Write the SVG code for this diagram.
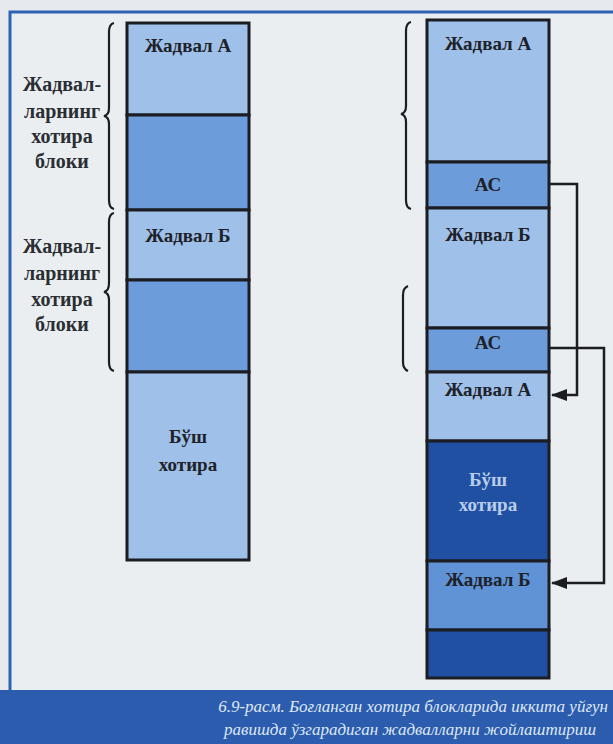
<svg xmlns="http://www.w3.org/2000/svg" width="613" height="744" viewBox="0 0 613 744">
<defs>
<style>
.lbl{font-family:"Liberation Serif",serif;font-weight:bold;font-size:19px;fill:#1e2228;text-anchor:middle}
.side{font-family:"Liberation Serif",serif;font-weight:bold;font-size:20px;fill:#2a2e33;text-anchor:middle}
.wht{font-family:"Liberation Serif",serif;font-weight:bold;font-size:19px;fill:#b9cdea;text-anchor:middle}
.cap{font-family:"Liberation Serif",serif;font-style:italic;font-size:17px;fill:#dfe8f5}
.lt{fill:#9fc0e8;stroke:#1b1d22;stroke-width:3}
.md{fill:#6d9cdb;stroke:#1b1d22;stroke-width:3}
.dk{fill:#1f50a2;stroke:#1b1d22;stroke-width:3}
.mb{fill:#5f93d6;stroke:#1b1d22;stroke-width:3}
.br{fill:none;stroke:#1b1d22;stroke-width:2.2}
.con{fill:none;stroke:#1b1d22;stroke-width:2.5}
</style>
<marker id="ah" viewBox="0 0 16 12" refX="15" refY="6" markerWidth="16" markerHeight="12" orient="auto-start-reverse" markerUnits="userSpaceOnUse">
<path d="M0,0 L16,6 L0,12 z" fill="#1b1d22"/>
</marker>
</defs>
<rect x="0" y="0" width="613" height="744" fill="#e6eaee"/>
<rect x="10" y="12" width="610" height="690" fill="#eaeef1" stroke="#2d63b3" stroke-width="3"/>
<rect x="0" y="690" width="613" height="54" fill="#2b5cae"/>
<text class="cap" x="608" y="712" text-anchor="end">6.9-расм. Боғланган хотира блокларида иккита уйғун</text>
<text class="cap" x="596" y="735" text-anchor="end">равишда ўзгарадиган жадвалларни жойлаштириш</text>

<g id="left-labels">
<text class="side" x="62" y="91">Жадвал-</text>
<text class="side" x="62" y="118">ларнинг</text>
<text class="side" x="62" y="143">хотира</text>
<text class="side" x="62" y="168">блоки</text>
<text class="side" x="62" y="253">Жадвал-</text>
<text class="side" x="62" y="280">ларнинг</text>
<text class="side" x="62" y="306">хотира</text>
<text class="side" x="62" y="331">блоки</text>
</g>
<g id="left-braces">
<path class="br" d="M114,23 Q109,24 109,32 L109,108 Q109,115 104,116 Q109,117 109,124 L109,200 Q109,208 114,209"/>
<path class="br" d="M114,213 Q109,214 109,222 L109,283 Q109,291 104,292 Q109,293 109,300 L109,362 Q109,370 114,371"/>
</g>

<g id="left-column">
<g id="l-tableA"><rect class="lt" x="127" y="23" width="122" height="92"/><text class="lbl" x="188" y="52">Жадвал А</text></g>
<g id="l-blockA2"><rect class="md" x="127" y="115" width="122" height="95"/></g>
<g id="l-tableB"><rect class="lt" x="127" y="210" width="122" height="70"/><text class="lbl" x="188" y="242">Жадвал Б</text></g>
<g id="l-blockB2"><rect class="md" x="127" y="280" width="122" height="92"/></g>
<g id="l-free"><rect class="lt" x="127" y="372" width="122" height="188"/><text class="lbl" x="188" y="443">Бўш</text><text class="lbl" x="188" y="471">хотира</text></g>
</g>

<g id="right-braces">
<path class="br" d="M411,22 Q406,23 406,31 L406,106 Q406,113 401,114 Q406,115 406,122 L406,200 Q406,208 411,209"/>
<path class="br" d="M408,286 Q403,288 403,295 L403,362 Q403,369 408,371"/>
</g>

<g id="right-column">
<g id="r-tableA"><rect class="lt" x="427" y="20" width="122" height="142"/><text class="lbl" x="488" y="50">Жадвал А</text></g>
<g id="r-ac1"><rect class="md" x="427" y="162" width="122" height="46"/><text class="lbl" x="488" y="191">АС</text></g>
<g id="r-tableB"><rect class="lt" x="427" y="208" width="122" height="120"/><text class="lbl" x="488" y="241">Жадвал Б</text></g>
<g id="r-ac2"><rect class="md" x="427" y="328" width="122" height="44"/><text class="lbl" x="488" y="349">АС</text></g>
<g id="r-tableA2"><rect class="lt" x="427" y="372" width="122" height="69"/><text class="lbl" x="488" y="396">Жадвал А</text></g>
<g id="r-free"><rect class="dk" x="427" y="441" width="122" height="120"/><text class="wht" x="488" y="486">Бўш</text><text class="wht" x="488" y="511">хотира</text></g>
<g id="r-tableB2"><rect class="mb" x="427" y="561" width="122" height="69"/><text class="lbl" x="488" y="586">Жадвал Б</text></g>
<g id="r-last"><rect class="dk" x="427" y="630" width="122" height="48"/></g>
</g>

<g id="connectors">
<path class="con" d="M550,184 L577,184 L577,395 L552,395" marker-end="url(#ah)"/>
<path class="con" d="M550,348 L604,348 L604,583 L552,583" marker-end="url(#ah)"/>
</g>
</svg>
